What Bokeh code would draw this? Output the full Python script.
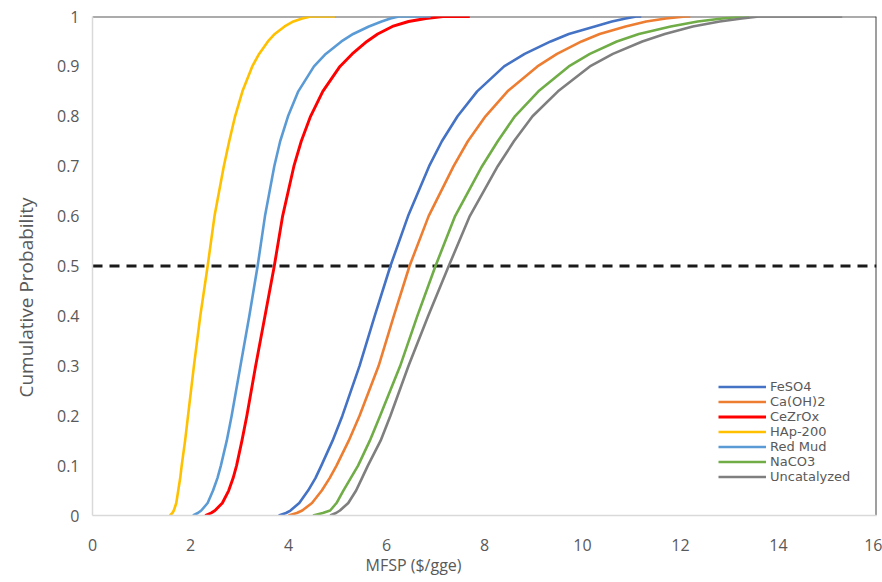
from bokeh.plotting import figure
from bokeh.models import Range1d, FixedTicker, Span, Legend, LegendItem, Title
from bokeh.embed import file_html
from bokeh.resources import INLINE

# Cumulative probability levels (shared) and MFSP values ($/gge)
prob = [0, 0.005, 0.01, 0.025, 0.05, 0.075, 0.1, 0.15, 0.2, 0.3, 0.4, 0.5, 0.6, 0.7, 0.75,
        0.8, 0.85, 0.9, 0.925, 0.95, 0.965, 0.98, 0.99, 0.996, 1.0, 1.0]

feso4 = [3.80, 3.95, 4.04, 4.22, 4.40, 4.55, 4.67, 4.90, 5.10, 5.45, 5.76, 6.08, 6.44, 6.87, 7.13,
         7.45, 7.85, 8.40, 8.82, 9.35, 9.72, 10.25, 10.60, 10.88, 11.10, 11.20]
caoh2 = [4.00, 4.17, 4.28, 4.48, 4.68, 4.84, 4.98, 5.23, 5.45, 5.84, 6.15, 6.47, 6.86, 7.37, 7.66,
         8.02, 8.47, 9.08, 9.48, 9.98, 10.35, 10.88, 11.30, 11.70, 12.10, 12.20]
cezrox = [2.30, 2.42, 2.50, 2.65, 2.78, 2.87, 2.94, 3.05, 3.15, 3.33, 3.52, 3.71, 3.88, 4.11, 4.26,
          4.45, 4.70, 5.05, 5.30, 5.60, 5.82, 6.12, 6.45, 6.80, 7.15, 7.70]
hap200 = [1.58, 1.63, 1.66, 1.71, 1.75, 1.79, 1.82, 1.89, 1.95, 2.07, 2.20, 2.35, 2.49, 2.68, 2.79,
          2.91, 3.06, 3.26, 3.40, 3.58, 3.72, 3.92, 4.10, 4.28, 4.45, 4.95]
redmud = [2.05, 2.15, 2.22, 2.35, 2.46, 2.55, 2.62, 2.74, 2.84, 3.02, 3.20, 3.37, 3.52, 3.71, 3.83,
          3.99, 4.20, 4.52, 4.76, 5.08, 5.32, 5.64, 5.90, 6.08, 6.25, 6.90]
naco3 = [4.50, 4.70, 4.85, 4.98, 5.12, 5.27, 5.42, 5.66, 5.87, 6.28, 6.63, 7.00, 7.40, 7.95, 8.27,
         8.62, 9.10, 9.72, 10.15, 10.70, 11.15, 11.80, 12.35, 12.85, 13.30, 13.40]
uncat = [4.85, 4.97, 5.05, 5.22, 5.38, 5.50, 5.62, 5.88, 6.08, 6.45, 6.85, 7.27, 7.70, 8.27, 8.60,
         8.98, 9.50, 10.15, 10.62, 11.22, 11.68, 12.25, 12.80, 13.25, 13.60, 15.30]

series_names = ["FeSO4", "Ca(OH)2", "CeZrOx", "HAp-200", "Red Mud", "NaCO3", "Uncatalyzed"]
series_values = [feso4, caoh2, cezrox, hap200, redmud, naco3, uncat]
series_colors = ["#4472C4", "#ED7D31", "#FF0000", "#FFC000", "#5B9BD5", "#70AD47", "#7F7F7F"]

# Median reference line
ref_x = [0, 16]
ref_y = [0.5, 0.5]

x_ticks = [0, 2, 4, 6, 8, 10, 12, 14, 16]
x_labels = ["0", "2", "4", "6", "8", "10", "12", "14", "16"]
y_ticks = [0, 0.1, 0.2, 0.3, 0.4, 0.5, 0.6, 0.7, 0.8, 0.9, 1]
y_labels = ["0", "0.1", "0.2", "0.3", "0.4", "0.5", "0.6", "0.7", "0.8", "0.9", "1"]

FONT = "Open Sans"
TXT = "#595959"

p = figure(width=882, height=582, output_backend="svg", toolbar_location=None,
           x_range=Range1d(0, 16), y_range=Range1d(0, 1),
           min_border_left=92, min_border_right=6, min_border_top=16, min_border_bottom=67)
p.outline_line_color = None
p.grid.visible = False
p.background_fill_color = "white"
p.border_fill_color = "white"

# Plot-area border: top and right
p.add_layout(Span(location=1, dimension="width", line_color="#595959", line_width=2, level="underlay"))
p.add_layout(Span(location=16, dimension="height", line_color="#404040", line_width=2, level="underlay"))

for ax in (p.xaxis[0], p.yaxis[0]):
    ax.major_tick_line_color = None
    ax.minor_tick_line_color = None
    ax.major_tick_out = 0
    ax.major_tick_in = 0
    ax.major_label_text_font = FONT
    ax.major_label_text_font_size = "16px"
    ax.major_label_text_color = TXT
    ax.axis_line_color = "#D9D9D9"
    ax.axis_line_width = 1.5

p.xaxis.ticker = FixedTicker(ticks=x_ticks)
p.xaxis.major_label_overrides = {t: l for t, l in zip(x_ticks, x_labels)}
p.yaxis.ticker = FixedTicker(ticks=y_ticks)
p.yaxis.major_label_overrides = {t: l for t, l in zip(y_ticks, y_labels)}
p.xaxis.major_label_standoff = 23
p.yaxis.major_label_standoff = 13

# Axis titles (slightly off-centre, as in the reference)
p.add_layout(Title(text="MFSP ($/gge)", align="left", offset=273, standoff=0,
                   vertical_align="top",
                   text_font=FONT, text_font_size="16px", text_font_style="normal",
                   text_color=TXT), "below")
p.add_layout(Title(text="Cumulative Probability", align="left", offset=118, standoff=25,
                   vertical_align="top",
                   text_font=FONT, text_font_size="19px", text_font_style="normal",
                   text_color=TXT), "left")

p.line(ref_x, ref_y, line_color="#1A1A1A", line_width=3, line_dash="10 7")

items = []
for name, vals, col in zip(series_names, series_values, series_colors):
    r = p.line(vals, prob, line_color=col, line_width=2.6 if name != "CeZrOx" else 2.9,
               line_join="round")
    items.append(LegendItem(label=name, renderers=[r]))

legend = Legend(items=items, location=(626, 31))
legend.border_line_color = None
legend.background_fill_alpha = 0
legend.label_text_font = "DejaVu Sans"
legend.label_text_font_size = "13px"
legend.label_text_color = TXT
legend.glyph_width = 48
legend.glyph_height = 15
legend.label_height = 15
legend.label_standoff = 4
legend.spacing = 0
legend.padding = 4
legend.margin = 0
p.add_layout(legend)

open("out.html", "w").write(file_html(p, INLINE))
